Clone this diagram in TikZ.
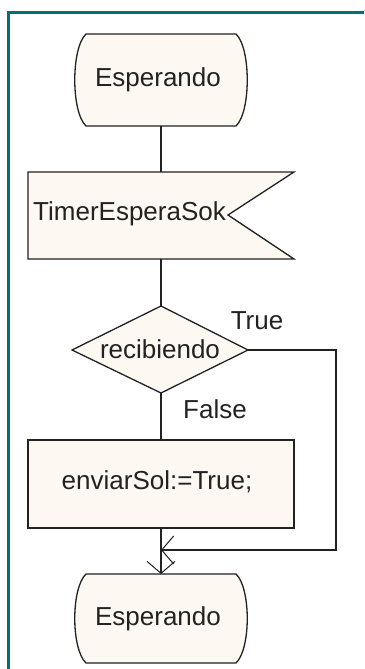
\documentclass[tikz,border=0pt]{standalone}
\usepackage{fontspec}
\setmainfont{Liberation Sans}
\usetikzlibrary{arrows.meta}
\definecolor{frameteal}{RGB}{0,112,112}
\definecolor{boxfill}{RGB}{253,248,242}
\definecolor{inkgray}{RGB}{34,34,34}
\begin{document}
\begin{tikzpicture}[x=1pt,y=-1pt,
  shapeline/.style={draw=inkgray,line width=1.3pt,fill=boxfill},
  conn/.style={draw=inkgray,line width=1.3pt},
  opentip/.style={-{Straight Barb[length=12pt,width=28pt,line width=1pt]}},
  lbl/.style={font=\fontsize{26}{31}\selectfont,text=inkgray,inner sep=0pt}]
\useasboundingbox (0,0) rectangle (364,669);
\fill[white] (0,0) rectangle (364,669);
% frame
\draw[frameteal,line width=3pt] (8,669) -- (8,13) -- (364,13);

% top terminal
\path[shapeline] (86,34) -- (236,34) .. controls (251,48) and (251,112) .. (236,126)
  -- (86,126) .. controls (71,112) and (71,48) .. (86,34) -- cycle;
\node[lbl] (start) at (158,80) {Esperando};
\coordinate (startB) at (161,126);

% timer input
\path[shapeline] (28,172) -- (294,172) -- (228,215) -- (294,259) -- (28,259) -- cycle;
\node[lbl,anchor=west] (timer) at (33,214) {TimerEsperaSok};
\coordinate (timerT) at (161,172);
\coordinate (timerB) at (161,259);

% decision
\path[shapeline] (161,306) -- (248,350) -- (161,393) -- (72,350) -- cycle;
\node[lbl] (dec) at (160,349) {recibiendo};
\coordinate (decT) at (161,306);
\coordinate (decR) at (248,350);
\coordinate (decB) at (161,393);
\node[lbl] (truelbl) at (257,321) {True};
\node[lbl] (falselbl) at (215,409) {False};

% action
\path[shapeline] (28,440) rectangle (294,528);
\node[lbl] (act) at (157,482) {enviarSol:=True;};
\coordinate (actT) at (161,440);
\coordinate (actB) at (161,528);

% bottom terminal
\path[shapeline] (86,574) -- (236,574) .. controls (251,588) and (251,649) .. (236,663)
  -- (86,663) .. controls (71,649) and (71,588) .. (86,574) -- cycle;
\node[lbl] (end) at (158,619) {Esperando};
\coordinate (endT) at (161,574);

% connectors
\draw[conn] (startB) -- (timerT);
\draw[conn] (timerB) -- (decT);
\draw[conn] (decB) -- (actT);
\coordinate (loopR) at (336,350);
\coordinate (loopRB) at (336,550);
\coordinate (join) at (161,550);
\draw[conn,opentip] (decR) -- (loopR) -- (loopRB) -- (join);
\draw[conn,opentip] (actB) -- (endT);
\end{tikzpicture}
\end{document}
